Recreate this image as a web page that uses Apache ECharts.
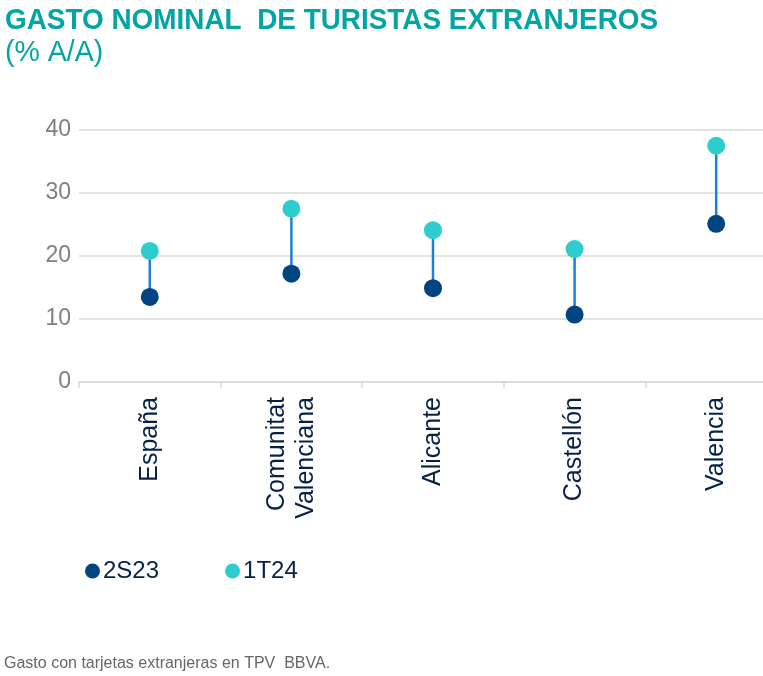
<!DOCTYPE html>
<html>
<head>
<meta charset="utf-8">
<script src="https://cdn.jsdelivr.net/npm/echarts@6/dist/echarts.min.js"></script>
<style>
html,body{margin:0;padding:0;background:#fff;overflow:hidden;width:763px;height:676px;}
#c{width:787px;height:676px;}
</style>
</head>
<body>
<div id="c"></div>
<script>
var categories = ['España', 'Comunitat\nValenciana', 'Alicante', 'Castellón', 'Valencia'];
var s2S23 = [13.5, 17.2, 14.9, 10.7, 25.1];
var s1T24 = [20.8, 27.5, 24.1, 21.1, 37.5];
var yTicks = [0, 10, 20, 30, 40];

var chart = echarts.init(document.getElementById('c'));
var rangeData = categories.map(function (c, i) { return [i, s2S23[i], s1T24[i]]; });

chart.setOption({
  backgroundColor: '#ffffff',
  animation: false,
  graphic: [
    {
      type: 'text', left: 5, top: 6, scaleX: 0.93, scaleY: 1,
      style: { text: 'GASTO NOMINAL  DE TURISTAS EXTRANJEROS', fontFamily: 'Liberation Sans', fontWeight: 'bold', fontSize: 30, fill: '#02A5A5' }
    },
    {
      type: 'text', left: 5, top: 38, scaleX: 0.95, scaleY: 1,
      style: { text: '(% A/A)', fontFamily: 'Liberation Sans', fontWeight: 'normal', fontSize: 30, fill: '#02A5A5' }
    },
    {
      type: 'text', left: 4, top: 656,
      style: { text: 'Gasto con tarjetas extranjeras en TPV  BBVA.', fontFamily: 'Liberation Sans', fontSize: 16, fill: '#666666' }
    }
  ],
  legend: {
    left: 80, top: 554,
    icon: 'circle',
    itemWidth: 15, itemHeight: 15,
    itemGap: 66,
    textStyle: { fontFamily: 'Liberation Sans', fontSize: 24, color: '#072146', padding: [0, 0, 0, -2] },
    data: ['2S23', '1T24']
  },
  grid: { left: 79, right: 0, top: 130, bottom: 294, containLabel: false },
  xAxis: {
    type: 'category',
    data: categories,
    axisLine: { lineStyle: { color: '#d9d9d9', width: 1.5 } },
    axisTick: { show: true, length: 6, lineStyle: { color: '#d9d9d9', width: 1.5 } },
    axisLabel: {
      interval: 0, rotate: 90, margin: 15,
      fontFamily: 'Liberation Sans', fontSize: 25, color: '#072146', lineHeight: 29
    },
    splitLine: { show: false }
  },
  yAxis: {
    type: 'value',
    min: yTicks[0], max: yTicks[yTicks.length - 1], interval: 10,
    axisLine: { show: false },
    axisTick: { show: false },
    axisLabel: { margin: 8, fontFamily: 'Liberation Sans', fontSize: 23, color: '#7f7f7f' },
    splitLine: { lineStyle: { color: '#d9d9d9', width: 1.5 } }
  },
  series: [
    {
      name: 'range',
      type: 'custom',
      z: 1,
      renderItem: function (params, api) {
        var p1 = api.coord([api.value(0), api.value(1)]);
        var p2 = api.coord([api.value(0), api.value(2)]);
        return {
          type: 'line',
          shape: { x1: p1[0], y1: p1[1], x2: p2[0], y2: p2[1] },
          style: { stroke: '#1E7FD6', lineWidth: 2.5 }
        };
      },
      encode: { x: 0, y: [1, 2] },
      data: rangeData,
      silent: true
    },
    {
      name: '2S23',
      type: 'scatter',
      z: 3,
      symbol: 'circle',
      symbolSize: 18,
      itemStyle: { color: '#004481', opacity: 1 },
      data: s2S23
    },
    {
      name: '1T24',
      type: 'scatter',
      z: 3,
      symbol: 'circle',
      symbolSize: 18,
      itemStyle: { color: '#2DCCCD', opacity: 1 },
      data: s1T24
    }
  ]
});
</script>
</body>
</html>
